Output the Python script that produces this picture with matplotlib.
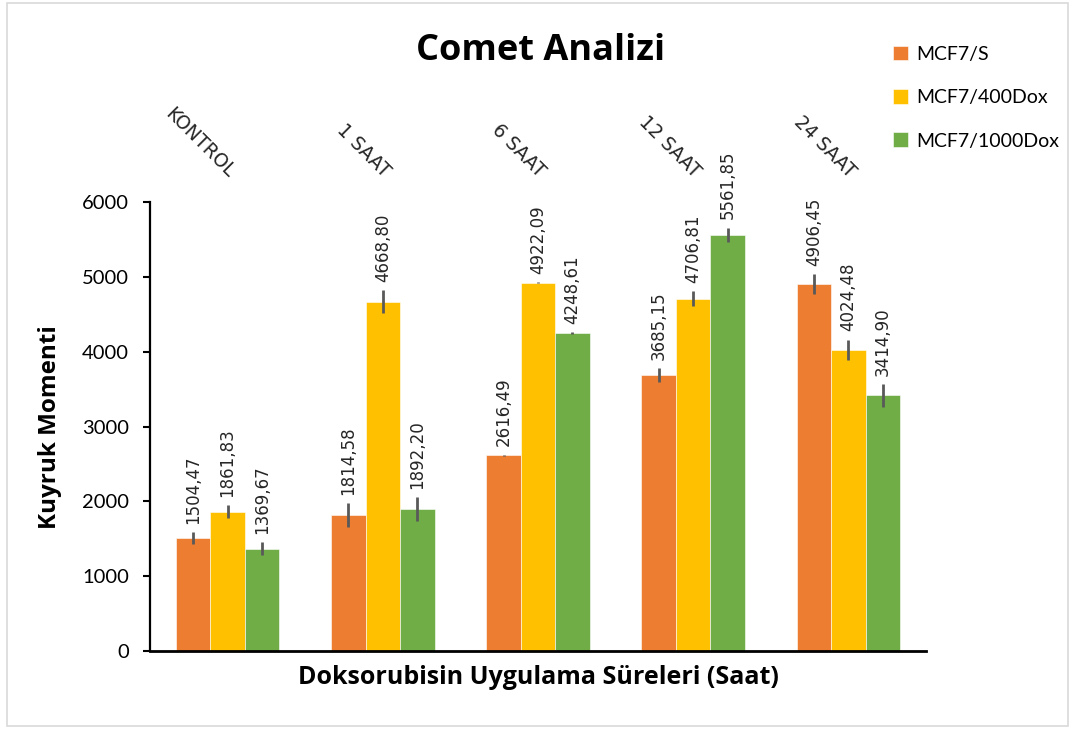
import numpy as np
import matplotlib.pyplot as plt
from matplotlib.patches import Rectangle

# data
categories = ['KONTROL', '1 SAAT', '6 SAAT', '12 SAAT', '24 SAAT']
series = ['MCF7/S', 'MCF7/400Dox', 'MCF7/1000Dox']
mcf7_s = [1504.47, 1814.58, 2616.49, 3685.15, 4906.45]
mcf7_400 = [1861.83, 4668.80, 4922.09, 4706.81, 4024.48]
mcf7_1000 = [1369.67, 1892.20, 4248.61, 5561.85, 3414.90]
err_s = [80, 160, 8, 95, 130]
err_400 = [85, 150, 10, 100, 135]
err_1000 = [85, 160, 10, 95, 150]
colors = ['#ED7D31', '#FFC000', '#70AD47']

values = [mcf7_s, mcf7_400, mcf7_1000]
errors = [err_s, err_400, err_1000]

fig = plt.figure(figsize=(10.73, 7.29), dpi=100)
W, H = 1073, 729
ax = fig.add_axes([150 / W, 1 - 651 / H, 776 / W, 449 / H])

# light chart border
fig.patches.append(Rectangle((7 / W, 3 / H), 1061 / W, 723 / H, transform=fig.transFigure,
                             fill=False, edgecolor='#D9D9D9', linewidth=1.2))

x = np.arange(len(categories))
bw = 1 / 4.5
handles = []
for k in range(3):
    pos = x + (k - 1) * bw
    b = ax.bar(pos, values[k], bw, color=colors[k], edgecolor='white', linewidth=0.4,
               label=series[k], zorder=2)
    handles.append(b)
    ax.errorbar(pos, values[k], yerr=errors[k], fmt='none', ecolor='#595959',
                elinewidth=2, capsize=0, zorder=3)
    for xi, v, e in zip(pos, values[k], errors[k]):
        txt = '{:.2f}'.format(v).replace('.', ',')
        ax.annotate(txt, (xi, v + e), xytext=(0, 6), textcoords='offset points',
                    rotation=90, ha='center', va='bottom', fontsize=12,
                    family='DejaVu Sans', color='#262626')

# category labels above the plot
for xi, c in zip(x, categories):
    ax.annotate(c, (xi, 1), xycoords=('data', 'axes fraction'), xytext=(0, 17),
                textcoords='offset points', rotation=-45, rotation_mode='anchor',
                ha='right', va='baseline', fontsize=13.5, family='DejaVu Sans',
                color='#262626', annotation_clip=False)

ax.set_xlim(-0.5, 4.5)
ax.set_ylim(0, 6000)
ax.set_yticks(np.arange(0, 6001, 1000))
ax.set_xticks([])
ax.spines['top'].set_visible(False)
ax.spines['right'].set_visible(False)
ax.spines['left'].set_linewidth(1.6)
ax.spines['bottom'].set_linewidth(2)
ax.tick_params(axis='y', length=5, width=1.5, labelsize=14.5, pad=10)
for lab in ax.get_yticklabels():
    lab.set_family('Lato')

fig.text(50 / W, 1 - 427 / H, 'Kuyruk Momenti', rotation=90, ha='center', va='center',
         fontsize=17.5, fontweight='bold', family='Open Sans')
fig.text(538 / W, 1 - 677 / H, 'Doksorubisin Uygulama Süreleri (Saat)', ha='center',
         va='center', fontsize=18, fontweight='bold', family='Open Sans')
fig.text(541 / W, 1 - 51 / H, 'Comet Analizi', ha='center', va='center',
         fontsize=26, fontweight='bold', family='Open Sans')

fig.legend(handles=handles, loc='upper left', bbox_to_anchor=(875 / W, 1 - 28 / H),
           frameon=False, prop={'family': 'Lato', 'size': 14}, labelspacing=1.35,
           handlelength=0.8, handleheight=0.8, handletextpad=0.4)

fig.savefig('out.png', dpi=100)
